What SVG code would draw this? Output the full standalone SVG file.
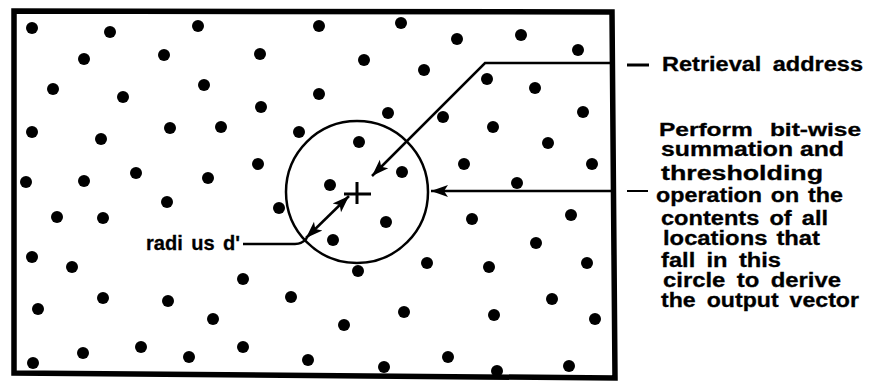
<svg xmlns="http://www.w3.org/2000/svg" width="872" height="383" viewBox="0 0 872 383">
<style>
.dot{fill:#000}
.ln{fill:none;stroke:#000;stroke-width:2.5;stroke-linecap:butt;stroke-linejoin:miter}
.lbl{font-family:"Liberation Sans",Arial,Helvetica,sans-serif;font-weight:bold;fill:#000;stroke:#000;stroke-width:0.3}
</style>
<defs>
<marker id="ah" markerUnits="userSpaceOnUse" markerWidth="18" markerHeight="14" refX="17" refY="7" orient="auto-start-reverse">
<path d="M0,1 L17,7 L0,13 L4,7 z" fill="#000"/>
</marker>
</defs>
<rect width="872" height="383" fill="#fff"/>
<g id="frame">
<path d="M14,11 L612,12 L615,378 L14,373 Z" fill="none" stroke="#000" stroke-width="5.5"/>
</g>
<g id="locations">
<circle class="dot" cx="32" cy="28" r="6"/>
<circle class="dot" cx="110" cy="32" r="6"/>
<circle class="dot" cx="198" cy="26" r="6"/>
<circle class="dot" cx="84" cy="59" r="6"/>
<circle class="dot" cx="164" cy="55" r="6"/>
<circle class="dot" cx="260" cy="54" r="6"/>
<circle class="dot" cx="53" cy="89" r="6"/>
<circle class="dot" cx="123" cy="97" r="6"/>
<circle class="dot" cx="204" cy="85" r="6"/>
<circle class="dot" cx="261" cy="107" r="6"/>
<circle class="dot" cx="32" cy="132" r="6"/>
<circle class="dot" cx="101" cy="139" r="6"/>
<circle class="dot" cx="170" cy="128" r="6"/>
<circle class="dot" cx="221" cy="127" r="6"/>
<circle class="dot" cx="299" cy="132" r="6"/>
<circle class="dot" cx="26" cy="182" r="6"/>
<circle class="dot" cx="84" cy="181" r="6"/>
<circle class="dot" cx="136" cy="173" r="6"/>
<circle class="dot" cx="208" cy="178" r="6"/>
<circle class="dot" cx="258" cy="164" r="6"/>
<circle class="dot" cx="167" cy="202" r="6"/>
<circle class="dot" cx="319" cy="26" r="6"/>
<circle class="dot" cx="401" cy="23" r="6"/>
<circle class="dot" cx="457" cy="39" r="6"/>
<circle class="dot" cx="521" cy="35" r="6"/>
<circle class="dot" cx="578" cy="50" r="6"/>
<circle class="dot" cx="364" cy="60" r="6"/>
<circle class="dot" cx="424" cy="70" r="6"/>
<circle class="dot" cx="487" cy="79" r="6"/>
<circle class="dot" cx="535" cy="88" r="6"/>
<circle class="dot" cx="319" cy="94" r="6"/>
<circle class="dot" cx="388" cy="113" r="6"/>
<circle class="dot" cx="443" cy="117" r="6"/>
<circle class="dot" cx="493" cy="127" r="6"/>
<circle class="dot" cx="583" cy="112" r="6"/>
<circle class="dot" cx="359" cy="142" r="6"/>
<circle class="dot" cx="548" cy="143" r="6"/>
<circle class="dot" cx="464" cy="164" r="6"/>
<circle class="dot" cx="592" cy="164" r="6"/>
<circle class="dot" cx="402" cy="172" r="6"/>
<circle class="dot" cx="330" cy="185" r="6"/>
<circle class="dot" cx="517" cy="183" r="6"/>
<circle class="dot" cx="279" cy="208" r="6"/>
<circle class="dot" cx="57" cy="217" r="6"/>
<circle class="dot" cx="103" cy="218" r="6"/>
<circle class="dot" cx="32" cy="257" r="6"/>
<circle class="dot" cx="72" cy="267" r="6"/>
<circle class="dot" cx="243" cy="279" r="6"/>
<circle class="dot" cx="291" cy="297" r="6"/>
<circle class="dot" cx="103" cy="298" r="6"/>
<circle class="dot" cx="168" cy="301" r="6"/>
<circle class="dot" cx="38" cy="309" r="6"/>
<circle class="dot" cx="213" cy="319" r="6"/>
<circle class="dot" cx="83" cy="353" r="6"/>
<circle class="dot" cx="141" cy="347" r="6"/>
<circle class="dot" cx="189" cy="357" r="6"/>
<circle class="dot" cx="243" cy="347" r="6"/>
<circle class="dot" cx="33" cy="363" r="6"/>
<circle class="dot" cx="386" cy="222" r="6"/>
<circle class="dot" cx="472" cy="219" r="6"/>
<circle class="dot" cx="571" cy="215" r="6"/>
<circle class="dot" cx="333" cy="240" r="6"/>
<circle class="dot" cx="536" cy="243" r="6"/>
<circle class="dot" cx="427" cy="263" r="6"/>
<circle class="dot" cx="489" cy="267" r="6"/>
<circle class="dot" cx="587" cy="263" r="6"/>
<circle class="dot" cx="358" cy="271" r="6"/>
<circle class="dot" cx="552" cy="299" r="6"/>
<circle class="dot" cx="404" cy="312" r="6"/>
<circle class="dot" cx="494" cy="315" r="6"/>
<circle class="dot" cx="595" cy="319" r="6"/>
<circle class="dot" cx="344" cy="325" r="6"/>
<circle class="dot" cx="308" cy="360" r="6"/>
<circle class="dot" cx="384" cy="367" r="6"/>
<circle class="dot" cx="448" cy="357" r="6"/>
<circle class="dot" cx="497" cy="371" r="6"/>
<circle class="dot" cx="569" cy="366" r="6"/>
</g>
<g id="circle">
<circle cx="357" cy="192" r="71" fill="none" stroke="#000" stroke-width="2.5"/>
</g>
<g id="center">
<path d="M344,194 H371 M357,182 V204" fill="none" stroke="#000" stroke-width="3"/>
</g>
<g id="connectors">
<path class="ln" d="M612,63 H485 L372,176" marker-end="url(#ah)"/>
<path class="ln" d="M612,191 H431" marker-end="url(#ah)"/>
<path class="ln" d="M306,238 L349,196" marker-start="url(#ah)" marker-end="url(#ah)"/>
<path class="ln" d="M243,244 H295 Q302,244 307,238"/>
<path d="M627,65 H649" stroke="#000" stroke-width="3"/>
<path d="M627,191 H648" stroke="#000" stroke-width="2"/>
</g>
<g id="label-retrieval">
<text class="lbl" x="662" y="71" font-size="19.5" word-spacing="4" textLength="201" lengthAdjust="spacingAndGlyphs">Retrieval address</text>
</g>
<g id="label-operation">
<text class="lbl" x="659" y="136" font-size="19" word-spacing="8" textLength="202" lengthAdjust="spacingAndGlyphs">Perform bit-wise</text>
<text class="lbl" x="661" y="156" font-size="20" textLength="183" lengthAdjust="spacingAndGlyphs">summation and</text>
<text class="lbl" x="661" y="180" font-size="20" textLength="162" lengthAdjust="spacingAndGlyphs">thresholding</text>
<text class="lbl" x="656" y="201.5" font-size="20" word-spacing="2" textLength="187" lengthAdjust="spacingAndGlyphs">operation on the</text>
<text class="lbl" x="661" y="225" font-size="20" word-spacing="3" textLength="167" lengthAdjust="spacingAndGlyphs">contents of all</text>
<text class="lbl" x="663" y="245" font-size="20" word-spacing="2" textLength="157" lengthAdjust="spacingAndGlyphs">locations that</text>
<text class="lbl" x="661" y="267" font-size="20" word-spacing="4" textLength="120" lengthAdjust="spacingAndGlyphs">fall in this</text>
<text class="lbl" x="663" y="287" font-size="20" word-spacing="4" textLength="178" lengthAdjust="spacingAndGlyphs">circle to derive</text>
<text class="lbl" x="661" y="307" font-size="20" word-spacing="4" textLength="198" lengthAdjust="spacingAndGlyphs">the output vector</text>
</g>
<g id="label-radius">
<text class="lbl" x="146" y="250" font-size="21" word-spacing="3" textLength="94" lengthAdjust="spacingAndGlyphs">radi us d'</text>
</g>
</svg>
